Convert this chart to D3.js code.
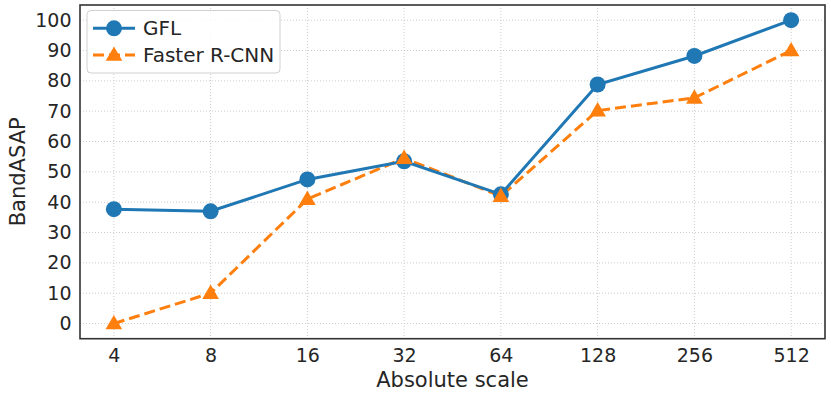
<!DOCTYPE html>
<html><head><meta charset="utf-8">
<script src="https://cdn.jsdelivr.net/npm/d3@7"></script>
<style>body{margin:0;background:#fff}svg{display:block}text{font-family:"DejaVu Sans",sans-serif}</style>
</head><body><svg id="c" width="831" height="398"></svg>
<script>
const categories = ["4","8","16","32","64","128","256","512"];
const gfl = [37.7, 37.0, 47.5, 53.5, 42.6, 78.8, 88.2, 100];
const frcnn = [0, 10, 41, 54.5, 42, 70.2, 74.4, 90];
const yTicks = [0,10,20,30,40,50,60,70,80,90,100];
const seriesNames = ["GFL","Faster R-CNN"];

const svg = d3.select("#c");
const L=80, R=825, T=5, B=338.7;
const x = d3.scaleLinear().domain([-0.35, 7.35]).range([L,R]);
const y = d3.scaleLinear().domain([-5,105]).range([B,T]);

// grid
const g = svg.append("g");
g.selectAll(".vg").data(categories).enter().append("line")
 .attr("x1",(d,i)=>x(i)).attr("x2",(d,i)=>x(i)).attr("y1",T).attr("y2",B)
 .attr("stroke","#cccccc").attr("stroke-width",1).attr("stroke-dasharray","1,2");
g.selectAll(".hg").data(yTicks).enter().append("line")
 .attr("x1",L).attr("x2",R).attr("y1",d=>y(d)).attr("y2",d=>y(d))
 .attr("stroke","#cccccc").attr("stroke-width",1).attr("stroke-dasharray","1,2");

// axes
const xAxis = d3.axisBottom(x).tickValues(d3.range(categories.length)).tickFormat(i=>categories[i]).tickSize(0).tickPadding(10);
const yAxis = d3.axisLeft(y).tickValues(yTicks).tickSize(0).tickPadding(8.5);
const xa = svg.append("g").attr("transform",`translate(0,${B})`).call(xAxis);
const ya = svg.append("g").attr("transform",`translate(${L},0)`).call(yAxis);
[xa,ya].forEach(a=>{a.select(".domain").remove();a.selectAll("text").attr("font-size",19).attr("fill","#262626").style("font-family","DejaVu Sans");});
xa.selectAll("text").attr("dy","0.73em").attr("y",9.5);

// series
const lineGen = d3.line().x((d,i)=>x(i)).y(d=>y(d));
svg.append("path").datum(frcnn).attr("d",lineGen).attr("fill","none").attr("stroke","#ff7f0e").attr("stroke-width",3).attr("stroke-dasharray","11,5");
svg.append("path").datum(gfl).attr("d",lineGen).attr("fill","none").attr("stroke","#1f77b4").attr("stroke-width",3);
svg.selectAll(".gm").data(gfl).enter().append("circle").attr("cx",(d,i)=>x(i)).attr("cy",d=>y(d)).attr("r",8).attr("fill","#1f77b4");
const tri = d3.symbol().type(d3.symbolTriangle).size(120);
svg.selectAll(".fm").data(frcnn).enter().append("path").attr("d",tri).attr("transform",(d,i)=>`translate(${x(i)},${y(d)+1})`).attr("fill","#ff7f0e");

// frame
svg.append("rect").attr("x",L).attr("y",T).attr("width",R-L).attr("height",B-T).attr("fill","none").attr("stroke","#333333").attr("stroke-width",1.6);

// labels
svg.append("text").attr("x",(L+R)/2).attr("y",387).attr("text-anchor","middle").attr("font-size",21).attr("fill","#262626").text("Absolute scale");
svg.append("text").attr("transform",`translate(25,${(T+B)/2}) rotate(-90)`).attr("text-anchor","middle").attr("font-size",21).attr("fill","#262626").text("BandASAP");

// legend
const lg = svg.append("g");
lg.append("rect").attr("x",87).attr("y",10.5).attr("width",193).attr("height",62.5).attr("rx",4).attr("fill","rgba(255,255,255,0.85)").attr("stroke","#d0d0d0").attr("stroke-width",1);
const ly = [28.3, 55];
lg.append("line").attr("x1",93).attr("x2",135).attr("y1",ly[0]).attr("y2",ly[0]).attr("stroke","#1f77b4").attr("stroke-width",3);
lg.append("circle").attr("cx",114).attr("cy",ly[0]).attr("r",8).attr("fill","#1f77b4");
lg.append("line").attr("x1",93).attr("x2",135).attr("y1",ly[1]).attr("y2",ly[1]).attr("stroke","#ff7f0e").attr("stroke-width",3).attr("stroke-dasharray","11,5");
lg.append("path").attr("d",tri).attr("transform",`translate(114,${ly[1]+1})`).attr("fill","#ff7f0e");
lg.selectAll(".lt").data(seriesNames).enter().append("text").attr("x",143).attr("y",(d,i)=>ly[i]).attr("dy","0.35em").attr("font-size",20).attr("fill","#262626").text(d=>d);
</script></body></html>
